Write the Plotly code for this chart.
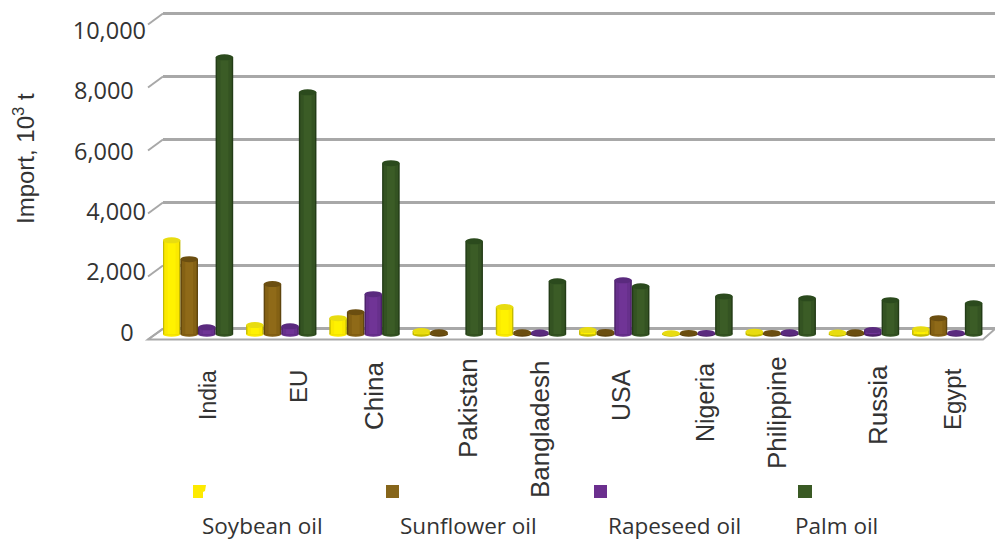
import plotly.graph_objects as go

# Imports by country, thousand tonnes
COUNTRIES = ["India", "EU", "China", "Pakistan", "Bangladesh", "USA", "Nigeria", "Philippine", "Russia", "Egypt"]
SOYBEAN = [2980, 290, 510, 100, 860, 130, 30, 80, 50, 160]
SUNFLOWER = [2380, 1590, 700, 60, 60, 70, 40, 40, 60, 510]
RAPESEED = [220, 250, 1270, 0, 50, 1710, 40, 60, 130, 40]
PALM = [8790, 7680, 5430, 2950, 1680, 1520, 1200, 1140, 1080, 980]
Y_TICKS = [0, 2000, 4000, 6000, 8000, 10000]
Y_TICK_TEXT = ["0\u00a0\u00a0", "2,000", "4,000", "6,000\u00a0\u00a0", "8,000\u00a0\u00a0", "10,000"]
SERIES_NAMES = ["Soybean oil", "Sunflower oil", "Rapeseed oil", "Palm oil"]

W, H = 995, 542
PX_PER_UNIT = 0.0315
GROUP_PITCH = 83.25
GROUP_ORIGIN = 198
BAR_PX = 17.6
BASE_PX = 334.2
WALL_BASE_PX = 328.5
LABEL_ZERO_PX, LABEL_TOP_PX = 332.5, 30.5
WALL_LEFT, FLOOR_LEFT = 163, 148
GREY = "#a8a8a8"
TEXT = "#333333"

# rim, body, highlight, cap
STYLES = [
    ("#c4bb00", "#fbe900", "#fff200", "#e8dc10"),
    ("#5f450e", "#846114", "#8f6a18", "#6b4e10"),
    ("#4b2068", "#67308c", "#703496", "#5a2a7e"),
    ("#233c17", "#345322", "#3b5c26", "#2b4a1d"),
]
LEGEND_COLORS = ["#fdea00", "#86651a", "#6b2f8e", "#3a5a24"]
VALUES = [SOYBEAN, SUNFLOWER, RAPESEED, PALM]

def px(p):
    return p / W

def py(p):
    return 1 - p / H

fig = go.Figure()
shapes = []

# Floor of the chart box
shapes.append(dict(
    type="path", xref="paper", yref="paper", layer="below",
    path=f"M {px(FLOOR_LEFT)} {py(339.5)} L {px(983)} {py(339.5)} L {px(995)} {py(329)} L {px(WALL_LEFT)} {py(329)} Z",
    fillcolor="#ffffff", line=dict(color=GREY, width=2),
))

# Slanted side-wall segments joining each label position to its gridline
for tick in Y_TICKS:
    shapes.append(dict(
        type="line", xref="paper", yref="y", layer="below",
        x0=px(FLOOR_LEFT), x1=px(WALL_LEFT),
        y0=tick - 11 / PX_PER_UNIT, y1=tick,
        line=dict(color=GREY, width=2),
    ))

# Back wall axes carry the gridlines
fig.add_trace(go.Scatter(x=[0], y=[0], xaxis="x", yaxis="y", mode="markers",
                         marker=dict(opacity=0), showlegend=False, hoverinfo="skip"))
# Invisible trace that keeps the labelled front axis alive
fig.add_trace(go.Scatter(x=[0], y=[0], xaxis="x2", yaxis="y3", mode="markers",
                         marker=dict(opacity=0), showlegend=False, hoverinfo="skip"))

dx = BAR_PX / GROUP_PITCH
dy = 1 / PX_PER_UNIT
xs = list(range(len(COUNTRIES)))

for s, (name, vals, style) in enumerate(zip(SERIES_NAMES, VALUES, STYLES)):
    rim, body, light, cap = style
    left = (s - 2) * dx
    for frac, color in ((1.0, rim), (0.84, body), (0.45, light)):
        width = dx * frac
        fig.add_trace(go.Bar(
            x=xs, y=vals, name=name, xaxis="x2", yaxis="y2",
            width=width, offset=left + (dx - width) / 2,
            marker=dict(color=color, line=dict(width=0)),
            showlegend=False,
        ))
    for k, v in enumerate(vals):
        if v <= 0:
            continue
        # Rounded foot and top of each cylinder
        shapes.append(dict(
            type="circle", xref="x2", yref="y2", layer="below",
            x0=k + left, x1=k + left + dx, y0=-2.5 * dy, y1=2.5 * dy,
            fillcolor=rim if v < 200 else body, line=dict(width=0),
        ))
        shapes.append(dict(
            type="circle", xref="x2", yref="y2", layer="above",
            x0=k + left, x1=k + left + dx, y0=v - 3 * dy, y1=v + 3 * dy,
            fillcolor=cap, line=dict(width=0),
        ))

# Legend keys sit in a row above their names
KEY_SPANS = [(193, 206), (386, 399), (594, 607), (798, 812)]
for i, ((x0, x1), color) in enumerate(zip(KEY_SPANS, LEGEND_COLORS)):
    if i == 0:
        path = (f"M {px(x0)} {py(485)} L {px(x1)} {py(485)} L {px(x1 - 1)} {py(491)} "
                f"L {px(x1 - 3)} {py(492)} L {px(x1 - 3)} {py(498)} L {px(x0)} {py(498)} Z")
        shapes.append(dict(type="path", xref="paper", yref="paper", path=path,
                           fillcolor=color, line=dict(width=0)))
    else:
        shapes.append(dict(type="rect", xref="paper", yref="paper",
                           x0=px(x0), x1=px(x1), y0=py(498), y1=py(485),
                           fillcolor=color, line=dict(width=0)))

annotations = []

# Country names, hand-placed under their groups
NAME_CENTERS = [(208, 395, 23), (298, 387, 24), (374, 396, 26), (468, 408, 26), (540, 430, 26),
                (621, 395, 25), (705, 403, 25), (777, 413, 26), (878, 405, 26), (952, 399, 24)]
for label, (cx, cy, size) in zip(COUNTRIES, NAME_CENTERS):
    annotations.append(dict(
        text=label, xref="paper", yref="paper", x=px(cx), y=py(cy),
        xanchor="center", yanchor="middle", textangle=-90, showarrow=False,
        font=dict(family="Liberation Sans", size=size, color=TEXT),
    ))

LEGEND_TEXT_CENTERS = [(262, 525.5), (468, 525), (674, 525.5), (836, 525.5)]
for label, (cx, cy) in zip(SERIES_NAMES, LEGEND_TEXT_CENTERS):
    annotations.append(dict(
        text=label, xref="paper", yref="paper", x=px(cx), y=py(cy),
        xanchor="center", yanchor="middle", showarrow=False, borderpad=0,
        font=dict(family="Open Sans", size=22.5, color=TEXT),
    ))

annotations.append(dict(
    text="Import, 10<sup>3</sup> t", xref="paper", yref="paper", x=px(24), y=py(159),
    xanchor="center", yanchor="middle", textangle=-90, showarrow=False,
    font=dict(family="Liberation Sans", size=24, color=TEXT),
))

label_scale = (LABEL_ZERO_PX - LABEL_TOP_PX) / 10000

fig.update_layout(
    width=W, height=H,
    margin=dict(l=0, r=0, t=0, b=0),
    paper_bgcolor="#ffffff", plot_bgcolor="rgba(0,0,0,0)",
    barmode="overlay",
    showlegend=False,
    shapes=shapes,
    annotations=annotations,
    xaxis=dict(domain=[px(WALL_LEFT), 1], range=[0, 1], visible=False),
    yaxis=dict(
        domain=[0, 1],
        range=[-(H - WALL_BASE_PX) / PX_PER_UNIT, WALL_BASE_PX / PX_PER_UNIT],
        tickvals=Y_TICKS, showticklabels=False, ticks="",
        showgrid=True, gridcolor=GREY, gridwidth=2.5, zeroline=False, showline=False,
    ),
    # An overlaying x axis inherits the wall's domain, so its range starts at the wall edge
    xaxis2=dict(
        overlaying="x", anchor="y2",
        range=[(WALL_LEFT - GROUP_ORIGIN) / GROUP_PITCH, (W - GROUP_ORIGIN) / GROUP_PITCH],
        visible=False,
    ),
    yaxis2=dict(
        overlaying="y", anchor="x2",
        range=[-(H - BASE_PX) / PX_PER_UNIT, BASE_PX / PX_PER_UNIT],
        visible=False,
    ),
    yaxis3=dict(
        overlaying="y", anchor="free", position=px(146), side="left",
        range=[-(H - LABEL_ZERO_PX) / label_scale, LABEL_ZERO_PX / label_scale],
        tickvals=Y_TICKS, ticktext=Y_TICK_TEXT, ticks="",
        tickfont=dict(family="Open Sans", size=23.5, color=TEXT),
        showgrid=False, zeroline=False, showline=False,
    ),
)

fig.write_html("out.html")
